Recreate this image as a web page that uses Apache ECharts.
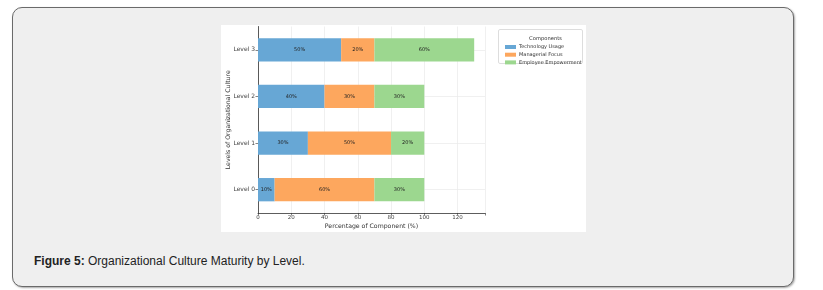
<!DOCTYPE html>
<html>
<head>
<meta charset="utf-8">
<script src="https://cdn.jsdelivr.net/npm/echarts@6/dist/echarts.min.js"></script>
<style>
  html, body { margin: 0; padding: 0; background: #ffffff; }
  #card {
    position: absolute; left: 12px; top: 7px; width: 780px; height: 278px;
    background: #efefef; border: 1px solid #6a6a6a; border-radius: 10px;
    box-shadow: 1px 1px 2px rgba(0,0,0,0.35);
  }
  #panel {
    position: absolute; left: 221px; top: 25px; width: 365px; height: 207px;
    background: #ffffff;
  }
  #caption {
    position: absolute; left: 34px; top: 254px;
    font-family: "Liberation Sans", Arial, sans-serif; font-size: 12px; color: #222;
    white-space: nowrap;
  }
</style>
</head>
<body>
<div id="card"></div>
<div id="panel"></div>
<div id="caption"><b>Figure 5:</b> Organizational Culture Maturity by Level.</div>
<script>
var levels = ['Level 0', 'Level 1', 'Level 2', 'Level 3'];
var techUsage = [10, 30, 40, 50];
var managerialFocus = [60, 50, 30, 20];
var employeeEmpowerment = [30, 20, 30, 60];
var xTicks = [0, 20, 40, 60, 80, 100, 120];

var font = '"DejaVu Sans", sans-serif';

function makeSeries(name, data, color) {
    return {
        name: name,
        type: 'bar',
        stack: 'total',
        barWidth: '50%',
        z: 3,
        data: data,
        itemStyle: { color: color },
        label: {
            show: true,
            position: 'inside',
            formatter: '{c}%',
            fontFamily: font,
            fontSize: 5,
            color: '#222'
        }
    };
}

var option = {
    animation: false,
    textStyle: { fontFamily: font },
    grid: { left: 37, top: 1.5, width: 227, height: 186.5, outerBoundsMode: 'none', containLabel: false },
    title: {
        text: 'Components',
        left: 319.5,
        top: 6,
        textAlign: 'center',
        textStyle: { fontFamily: font, fontSize: 5.2, fontWeight: 'normal', color: '#333' }
    },
    graphic: [{
        type: 'rect',
        shape: { x: 277.5, y: 4.5, width: 84, height: 34, r: 1.5 },
        style: { fill: '#ffffff', stroke: '#dddddd', lineWidth: 1 },
        z: 0
    }],
    legend: {
        orient: 'vertical',
        left: 279,
        top: 14,
        icon: 'rect',
        itemWidth: 11,
        itemHeight: 4,
        itemGap: 1.7,
        textStyle: { fontFamily: font, fontSize: 5, color: '#333', lineHeight: 6, padding: [0, 0, 0, -2] },
        data: ['Technology Usage', 'Managerial Focus', 'Employee Empowerment']
    },
    xAxis: {
        type: 'value',
        min: 0,
        max: 136.5,
        interval: 20,
        name: 'Percentage of Component (%)',
        nameLocation: 'middle',
        nameGap: 10,
        nameMoveOverlap: false,
        nameTextStyle: { fontFamily: font, fontSize: 6.2, color: '#333' },
        axisLine: { show: true, lineStyle: { color: '#333', width: 0.8 } },
        axisTick: { show: true, length: 2.5, lineStyle: { color: '#333', width: 0.6 } },
        axisLabel: {
            fontSize: 5.5, color: '#444', margin: 2,
            formatter: function (v) { return xTicks.indexOf(v) >= 0 ? String(v) : ''; }
        },
        splitLine: { show: true, lineStyle: { color: '#ececec', width: 0.8 } }
    },
    yAxis: {
        type: 'category',
        data: levels,
        name: 'Levels of Organizational Culture',
        nameLocation: 'middle',
        nameGap: 27,
        nameMoveOverlap: false,
        nameTruncate: { maxWidth: 300 },
        nameTextStyle: { fontFamily: font, fontSize: 6.2, color: '#333' },
        axisLine: { show: true, lineStyle: { color: '#333', width: 0.8 } },
        axisTick: { show: true, alignWithLabel: true, length: 2.5, lineStyle: { color: '#333', width: 0.6 } },
        axisLabel: { fontSize: 6, color: '#444', margin: 3 },
        splitLine: { show: false }
    },
    series: [
        {
            name: 'grid',
            type: 'line',
            data: [],
            z: 1,
            silent: true,
            markLine: {
                silent: true,
                z: 1,
                symbol: 'none',
                label: { show: false },
                lineStyle: { color: '#ececec', type: 'solid', width: 0.8 },
                data: levels.map(function (l) { return { yAxis: l }; })
            }
        },
        makeSeries('Technology Usage', techUsage, '#67a7d5'),
        makeSeries('Managerial Focus', managerialFocus, '#fda75e'),
        makeSeries('Employee Empowerment', employeeEmpowerment, '#9cd78f')
    ]
};

var chart = echarts.init(document.getElementById('panel'));
chart.setOption(option);
</script>
</body>
</html>
